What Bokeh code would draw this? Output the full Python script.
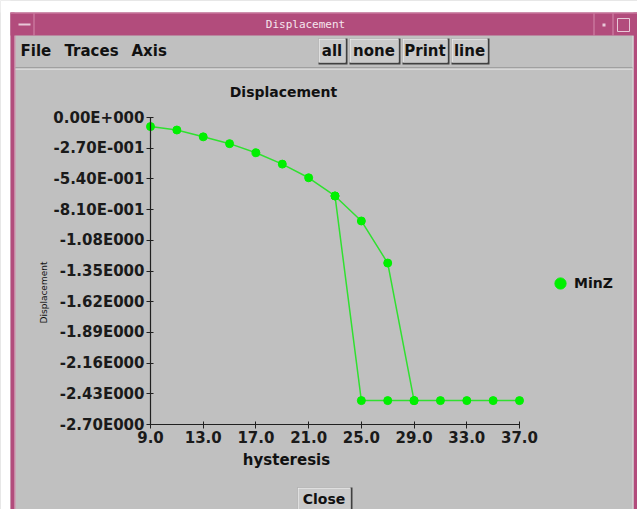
import math
from bokeh.plotting import figure
from bokeh.models import Range1d, FixedTicker, BoxAnnotation, Label, Legend, LegendItem
from bokeh.embed import file_html
from bokeh.resources import INLINE

# ---------------- data ----------------
x_main = [9, 11, 13, 15, 17, 19, 21, 23, 25, 27, 29, 31, 33, 35, 37]
y_main = [-0.08, -0.11, -0.17, -0.23, -0.31, -0.41, -0.53, -0.69, -0.91, -1.28,
          -2.49, -2.49, -2.49, -2.49, -2.49]
x_branch = [23, 25, 27, 29]
y_branch = [-0.69, -2.49, -2.49, -2.49]
series_name = "MinZ"

x_ticks = [9, 13, 17, 21, 25, 29, 33, 37]
x_tick_labels = ["9.0", "13.0", "17.0", "21.0", "25.0", "29.0", "33.0", "37.0"]
y_ticks = [0.0, -0.27, -0.54, -0.81, -1.08, -1.35, -1.62, -1.89, -2.16, -2.43, -2.70]
y_tick_labels = ["0.00E+000", "-2.70E-001", "-5.40E-001", "-8.10E-001", "-1.08E000",
                 "-1.35E000", "-1.62E000", "-1.89E000", "-2.16E000", "-2.43E000", "-2.70E000"]

window_title = "Displacement"
chart_title = "Displacement"
x_label = "hysteresis"
y_label = "Displacement"
menu_items = ["File", "Traces", "Axis"]
button_labels = ["all", "none", "Print", "line"]
close_label = "Close"

# ---------------- layout / style ----------------
W, H = 637, 509
OFF = 0  # reference pixel -> canvas pixel
# where the axis ends sit in the reference picture (pixels)
X0_PX, X1_PX = 150, 519
Y0_PX, Y1_PX = 117, 424
xlo, xhi = x_ticks[0], x_ticks[-1]
ylo, yhi = y_ticks[-1], y_ticks[0]
sx = (X1_PX - X0_PX) / (xhi - xlo)
sy = (Y1_PX - Y0_PX) / (yhi - ylo)
x_start = xlo - (X0_PX - OFF) / sx
x_end = xhi + (W - (X1_PX - OFF)) / sx
y_end = yhi + (Y0_PX - OFF) / sy
y_start = ylo - (H - (Y1_PX - OFF)) / sy

GRAY = "#C0C0C0"
PINK = "#B24C7C"
PINK_LIGHT = "#D48AAC"
GREEN = "#00F000"
LINE_GREEN = "#30E030"
FONT = "DejaVu Sans"

p = figure(width=W, height=H,
           x_range=Range1d(x_start, x_end), y_range=Range1d(y_start, y_end),
           output_backend="svg", toolbar_location=None,
           min_border_left=0, min_border_right=0,
           min_border_top=0, min_border_bottom=0,
           background_fill_color=GRAY, border_fill_color=GRAY,
           outline_line_color=None)
p.grid.visible = False

# axes (drawn at fixed data positions inside the frame)
xa = p.xaxis[0]
ya = p.yaxis[0]
xa.fixed_location = ylo
ya.fixed_location = xlo
xa.bounds = (xlo, xhi)
ya.bounds = (ylo, yhi)
xa.ticker = FixedTicker(ticks=x_ticks, minor_ticks=[])
ya.ticker = FixedTicker(ticks=y_ticks, minor_ticks=[])
xa.major_label_overrides = {t: s for t, s in zip(x_ticks, x_tick_labels)}
ya.major_label_overrides = {t: s for t, s in zip(y_ticks, y_tick_labels)}
for ax in (xa, ya):
    ax.axis_line_color = "#202020"
    ax.axis_line_width = 1.2
    ax.major_tick_line_color = "#202020"
    ax.major_tick_in = 3
    ax.major_tick_out = 4
    ax.minor_tick_line_color = None
    ax.major_label_text_font = FONT
    ax.major_label_text_font_style = "bold"
    ax.major_label_text_font_size = "15px"
    ax.major_label_text_color = "#1A1A1A"
    ax.major_label_standoff = 2

# data
p.line(x_main, y_main, line_color=LINE_GREEN, line_width=1.5)
p.line(x_branch, y_branch, line_color=LINE_GREEN, line_width=1.5)
pts = p.scatter(x_main + x_branch, y_main + y_branch, size=8, fill_color=GREEN,
                line_color=GREEN)

# legend: glyph centred near reference pixel (560, 283)
LEG_CX, LEG_CY, LEG_G = 560, 283, 28
legend = Legend(items=[LegendItem(label=series_name, renderers=[pts])],
                location=(LEG_CX - OFF - LEG_G / 2, H - (LEG_CY - OFF + LEG_G / 2)),
                padding=0, margin=0, spacing=0,
                glyph_width=LEG_G, glyph_height=LEG_G, label_height=LEG_G, label_standoff=0,
                border_line_color=None, background_fill_alpha=0,
                label_text_font=FONT, label_text_font_style="bold",
                label_text_font_size="14px", label_text_color="#111111")
p.add_layout(legend, "center")


# ---------------- window chrome (canvas units, reference pixel coords) ----------------
def box(l, t, r, b, color, line=None):
    p.add_layout(BoxAnnotation(left=l - OFF, right=r - OFF, top=t - OFF, bottom=b - OFF,
                               left_units="canvas", right_units="canvas",
                               top_units="canvas", bottom_units="canvas",
                               fill_color=color, fill_alpha=1.0 if color else 0.0,
                               line_color=line, line_alpha=1.0 if line else 0.0,
                               level="underlay"))


def text(x, y, s, size="14px", style="bold", font=FONT, color="#111111",
         align="center", angle=0.0):
    p.add_layout(Label(x=x - OFF, y=y - OFF, x_units="canvas", y_units="canvas",
                       text=s, text_font=font, text_font_size=size,
                       text_font_style=style, text_color=color,
                       text_align=align, text_baseline="middle", angle=angle))


# white outside the window
box(0, 0, 10, 520, "white")
box(0, 0, 640, 12, "white")
# pink frame
box(10, 12, 14, 520, PINK)
box(14, 35, 15, 520, PINK_LIGHT)
box(633, 12, 640, 520, PINK)
box(632, 35, 633, 520, "#E0E0E0")
# title bar
box(10, 12, 640, 35, PINK)
box(10, 12, 640, 13, PINK_LIGHT)
box(33, 13, 34, 35, PINK_LIGHT)
box(593, 13, 594, 35, PINK_LIGHT)
box(612, 13, 613, 35, PINK_LIGHT)
box(18, 23, 30, 25, "#E8C8D8")
box(602, 23, 605, 26, "#E8C8D8")
box(617, 18, 629, 31, None, line="#E8C8D8")
text(305, 24, window_title, size="11px", style="normal", font="DejaVu Sans Mono",
     color="#F6E6EE")
# menu bar
for label, x in zip(menu_items, [20, 64, 131]):
    text(x, 50, label, size="15px", align="left")
box(15, 67, 632, 68, "#808080")
box(15, 68, 632, 69, "#F0F0F0")
# buttons
for label, (l, r) in zip(button_labels, [(318, 345), (349, 398), (402, 447), (451, 487)]):
    box(l, 38, r + 2, 64, "#404040")
    box(l, 38, r, 62, "#F4F4F4")
    box(l + 1, 39, r, 62, "#CACACA")
    text((l + r) / 2, 50, label, size="15px")
# close button
box(297, 487, 352, 515, "#404040")
box(297, 487, 350, 515, "#F4F4F4")
box(298, 488, 350, 515, "#CACACA")
text(323.5, 498, close_label, size="14px")

# chart texts
text(283, 91, chart_title, size="14px")
text(286, 459, x_label, size="15px")
text(43, 292, y_label, size="9px", style="normal", angle=math.pi / 2)

open("out.html", "w").write(file_html(p, INLINE))
